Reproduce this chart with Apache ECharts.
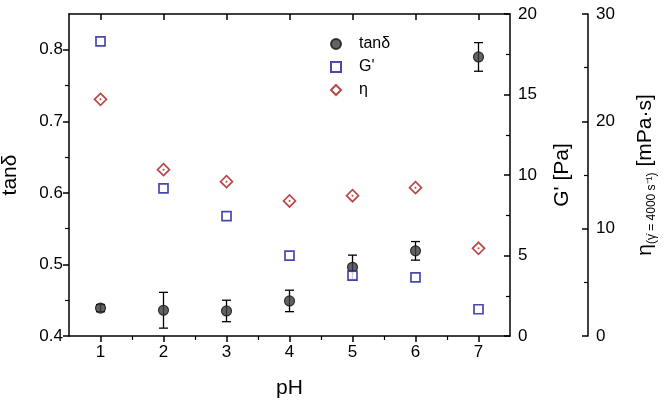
<!DOCTYPE html>
<html>
<head>
<meta charset="utf-8">
<script src="https://cdn.jsdelivr.net/npm/echarts@6/dist/echarts.min.js"></script>
<style>html,body{margin:0;padding:0;background:#fff;}#c{width:666px;height:402px;}</style>
</head>
<body>
<div id="c"></div>
<script>
const pH = [1, 2, 3, 4, 5, 6, 7];
const tanDelta = [0.439, 0.436, 0.435, 0.449, 0.496, 0.519, 0.790];
const tanDeltaErr = [0.005, 0.025, 0.015, 0.015, 0.017, 0.013, 0.020];
const gPrime = [18.3, 9.17, 7.45, 4.99, 3.75, 3.64, 1.66];
const eta = [22.05, 15.5, 14.38, 12.58, 13.07, 13.82, 8.17];
const xTicks = [1, 2, 3, 4, 5, 6, 7];
const xMinorTicks = [1.5, 2.5, 3.5, 4.5, 5.5, 6.5];
const tanTicks = [0.4, 0.5, 0.6, 0.7, 0.8];
const tanMinorTicks = [0.45, 0.55, 0.65, 0.75];

const FONT = 'Liberation Sans';
const axisLineStyle = {color: '#000', width: 1.5};
const labelStyle = {color: '#000', fontSize: 17, fontFamily: FONT};
const nameStyle = {color: '#000', fontSize: 21, fontFamily: FONT};

const chart = echarts.init(document.getElementById('c'));
const option = {
  backgroundColor: '#fff',
  animation: false,
  grid: {left: 69, right: 156, top: 14, bottom: 66, containLabel: false, outerBoundsMode: 'none'},
  legend: {
    orient: 'vertical', left: 325, top: 31, itemWidth: 10, itemHeight: 10, itemGap: 7,
    textStyle: {color: '#000', fontSize: 16, fontFamily: FONT, padding: [0, 0, 0, 13]},
    data: ['tanδ', "G'", 'η']
  },
  xAxis: [
    {type: 'value', position: 'bottom', min: 0.5, max: 7.5,
     name: 'pH', nameLocation: 'middle', nameGap: 42, nameTextStyle: nameStyle,
     axisLine: {show: true, lineStyle: axisLineStyle},
     axisTick: {show: true, inside: false, length: 6, lineStyle: {width: 1.5, color: '#000'}, customValues: xTicks},
     axisLabel: {show: true, margin: 8, customValues: xTicks, ...labelStyle},
     splitLine: {show: false}},
    {type: 'value', position: 'bottom', min: 0.5, max: 7.5,
     axisLine: {show: false},
     axisTick: {show: true, inside: false, length: 4, lineStyle: {width: 1.2, color: '#000'}, customValues: xMinorTicks},
     axisLabel: {show: false}, splitLine: {show: false}},
    {type: 'value', position: 'top', min: 0.5, max: 7.5,
     axisLine: {show: true, lineStyle: axisLineStyle},
     axisTick: {show: true, inside: true, length: 6, lineStyle: {width: 1.5, color: '#000'}, customValues: xTicks},
     axisLabel: {show: false}, splitLine: {show: false}}
  ],
  yAxis: [
    {type: 'value', position: 'left', min: 0.4, max: 0.85,
     name: 'tanδ', nameLocation: 'middle', nameGap: 48, nameRotate: 90, nameTextStyle: nameStyle,
     axisLine: {show: true, lineStyle: axisLineStyle},
     axisTick: {show: true, inside: false, length: 6, lineStyle: {width: 1.5, color: '#000'}, customValues: tanTicks},
     axisLabel: {show: true, margin: 6, customValues: tanTicks, formatter: v => v.toFixed(1), ...labelStyle},
     splitLine: {show: false}},
    {type: 'value', position: 'right', offset: 0, min: 0, max: 20, interval: 5,
     name: "G' [Pa]", nameLocation: 'middle', nameGap: 42, nameRotate: 90, nameTextStyle: nameStyle,
     axisLine: {show: true, lineStyle: axisLineStyle},
     axisTick: {show: true, inside: true, length: 6, lineStyle: {width: 1.5, color: '#000'}},
     minorTick: {show: true, splitNumber: 2, length: 4, lineStyle: {width: 1.2, color: '#000'}},
     axisLabel: {show: true, margin: 8, ...labelStyle},
     splitLine: {show: false}, minorSplitLine: {show: false}},
    {type: 'value', position: 'right', offset: 78, min: 0, max: 30, interval: 10,
     name: '{m|η}{s|(γ̇ = 4000 s⁻¹)}{m| [mPa·s]}', nameLocation: 'middle', nameGap: 44, nameRotate: 90,
     nameTextStyle: {color: '#000', fontFamily: FONT,
       rich: {m: {fontSize: 21, fontFamily: FONT, color: '#000', lineHeight: 26, verticalAlign: 'middle'},
              s: {fontSize: 12, fontFamily: FONT, color: '#000', lineHeight: 26, verticalAlign: 'bottom', padding: [8, 0, 0, 0]}}},
     axisLine: {show: true, lineStyle: axisLineStyle},
     axisTick: {show: true, inside: true, length: 6, lineStyle: {width: 1.5, color: '#000'}},
     minorTick: {show: true, splitNumber: 2, length: 4, lineStyle: {width: 1.2, color: '#000'}},
     axisLabel: {show: true, margin: 8, ...labelStyle},
     splitLine: {show: false}, minorSplitLine: {show: false}},
    {type: 'value', position: 'left', offset: 0, min: 0.4, max: 0.85,
     axisLine: {show: false},
     axisTick: {show: true, inside: false, length: 4, lineStyle: {width: 1.2, color: '#000'}, customValues: tanMinorTicks},
     axisLabel: {show: false}, splitLine: {show: false}}
  ],
  series: [
    {type: 'custom', name: 'err', xAxisIndex: 0, yAxisIndex: 0, z: 1,
     data: pH.map((x, i) => [x, tanDelta[i] - tanDeltaErr[i], tanDelta[i] + tanDeltaErr[i]]),
     renderItem: function (params, api) {
       const lo = api.coord([api.value(0), api.value(1)]);
       const hi = api.coord([api.value(0), api.value(2)]);
       const w = 4.5;
       const st = {stroke: '#000', lineWidth: 1.3};
       return {type: 'group', children: [
         {type: 'line', shape: {x1: lo[0], y1: lo[1], x2: hi[0], y2: hi[1]}, style: st},
         {type: 'line', shape: {x1: lo[0] - w, y1: lo[1], x2: lo[0] + w, y2: lo[1]}, style: st},
         {type: 'line', shape: {x1: hi[0] - w, y1: hi[1], x2: hi[0] + w, y2: hi[1]}, style: st}
       ]};
     }},
    {type: 'scatter', name: 'tanδ', xAxisIndex: 0, yAxisIndex: 0, z: 2,
     symbol: 'circle', symbolSize: 10,
     itemStyle: {color: '#3c3c3c', borderColor: '#111', borderWidth: 1.2},
     data: pH.map((x, i) => [x, tanDelta[i]])},
    {type: 'scatter', name: "G'", xAxisIndex: 0, yAxisIndex: 1, z: 3,
     symbol: 'rect', symbolSize: 9,
     itemStyle: {color: '#fff', borderColor: '#1a1a9a', borderWidth: 1.7},
     data: pH.map((x, i) => [x, gPrime[i]])},
    {type: 'scatter', name: 'η', xAxisIndex: 0, yAxisIndex: 2, z: 4,
     symbol: 'diamond', symbolSize: 12,
     itemStyle: {color: '#fff', borderColor: '#aa1a1a', borderWidth: 1.7},
     data: pH.map((x, i) => [x, eta[i]])},
    {type: 'scatter', name: 'ηdot', xAxisIndex: 0, yAxisIndex: 2, z: 5,
     symbol: 'circle', symbolSize: 2, silent: true,
     itemStyle: {color: '#aa1a1a'},
     data: pH.map((x, i) => [x, eta[i]])}
  ]
};
chart.setOption(option);
</script>
</body>
</html>
